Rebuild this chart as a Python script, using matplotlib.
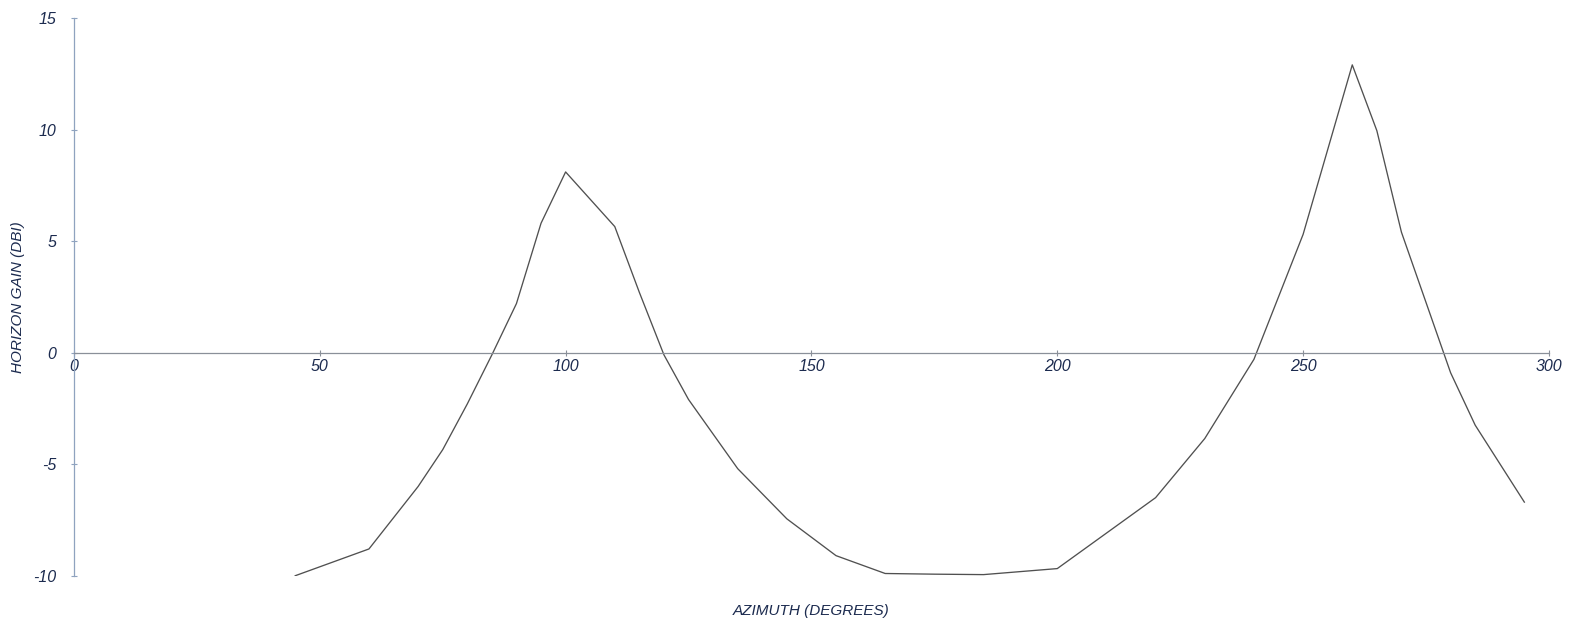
import matplotlib
matplotlib.use("Agg")
import matplotlib.pyplot as plt

# Horizon gain pattern vs azimuth
azimuth_deg = [45, 60, 70, 75, 80, 85, 90, 95, 100, 110, 115, 120, 125, 135, 145,
               155, 165, 175, 185, 200, 220, 230, 240, 250, 260, 265, 270, 280, 285, 295]
gain_dbi = [-10.0, -8.8, -6.0, -4.35, -2.3, -0.1, 2.2, 5.8, 8.1, 5.65, 2.7, -0.1, -2.1,
            -5.2, -7.45, -9.1, -9.9, -9.93, -9.95, -9.68, -6.5, -3.85, -0.3, 5.3, 12.9,
            9.95, 5.4, -0.9, -3.25, -6.7]

x_ticks = [0, 50, 100, 150, 200, 250, 300]
y_ticks = [-10, -5, 0, 5, 10, 15]

text_color = "#1c2b4f"
axis_color = "#8fa3bf"

plt.rcParams["font.family"] = ["Liberation Sans", "DejaVu Sans"]

fig = plt.figure(figsize=(15.77, 6.21), dpi=100)
ax = fig.add_axes([0.0469, 0.0729, 0.9353, 0.8981])

ax.plot(azimuth_deg, gain_dbi, color="#505050", linewidth=0.95)

ax.set_xlim(0, 300)
ax.set_ylim(-10, 15)

for side in ("top", "right"):
    ax.spines[side].set_visible(False)
ax.spines["bottom"].set_position(("data", 0))
ax.spines["bottom"].set_color("#8a9099")
ax.spines["bottom"].set_linewidth(0.9)
ax.spines["left"].set_color(axis_color)
ax.spines["left"].set_linewidth(0.9)

ax.set_xticks(x_ticks)
ax.set_yticks(y_ticks)
ax.set_xticklabels([str(v) for v in x_ticks])
ax.set_yticklabels([str(v) for v in y_ticks])

ax.tick_params(axis="x", direction="inout", length=5, width=0.8, color="#8a9099",
               labelsize=11.5, labelcolor=text_color, pad=2)
ax.tick_params(axis="y", direction="inout", length=5, width=0.8, color=axis_color,
               labelsize=11.5, labelcolor=text_color, pad=10)
for lbl in ax.get_xticklabels() + ax.get_yticklabels():
    lbl.set_fontstyle("italic")

ax.set_ylabel("HORIZON GAIN (DBI)", fontsize=11, color=text_color, fontstyle="italic")
ax.yaxis.set_label_coords(-0.033, 0.5)
ax.set_xlabel("AZIMUTH (DEGREES)", fontsize=11, color=text_color, fontstyle="italic")
ax.xaxis.set_label_coords(0.5, -0.05)

fig.savefig("out.png", dpi=100, facecolor="white")
